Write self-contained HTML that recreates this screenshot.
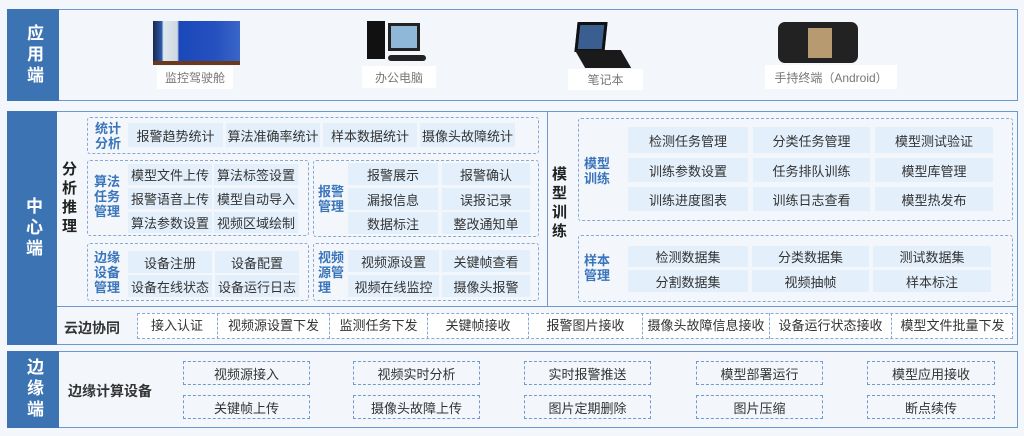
<!DOCTYPE html>
<html><head><meta charset="utf-8"><style>
*{margin:0;padding:0;box-sizing:border-box}
body{width:1024px;height:436px;background:#f3f7fb;position:relative;overflow:hidden;font-family:"Liberation Sans","Noto Sans CJK SC",sans-serif;color:#333}
div{position:absolute}
.sec{border:1px solid #6d98cc;background:#f3f7fb}
.bar{background:#3c73b3;color:#fff;font-size:17px;line-height:22px;text-align:center;display:flex;align-items:center;justify-content:center;writing-mode:vertical-rl;letter-spacing:4px;font-weight:bold}
.dash{border:1.5px dashed #86a9d6;border-radius:3px}
.c{background:#e3effb;font-size:13px;text-align:center;color:#333;display:flex;align-items:center;justify-content:center}
.lb{color:#3a75bb;font-weight:bold;font-size:13px;line-height:15px}
.vl{font-weight:bold;font-size:15px;line-height:19px;color:#222;width:18px}
.wl{background:#fff;color:#777;font-size:12px;text-align:center;display:flex;align-items:center;justify-content:center}
.e{border:1.5px dashed #6f9ad3;font-size:13px;display:flex;align-items:center;justify-content:center;background:#f3f7fb}
</style></head><body>
<!-- app -->
<div class="sec" style="left:7px;top:9px;width:1011px;height:92px"></div>
<div class="bar" style="left:7px;top:9px;width:52px;height:92px">应用端</div>
<div style="left:153px;top:21px;width:87px;height:44px;background:linear-gradient(90deg,#1a2850 0,#2e5aa8 10%,#dfe8f0 12%,#cfd8e0 28%,#1b48b8 30%,#2450c0 70%,#3a66c8 100%);border-bottom:4px solid #6b3a1c"></div>
<div class="wl" style="left:157px;top:66px;width:76px;height:23px">监控驾驶舱</div>
<div style="left:367px;top:21px;width:18px;height:38px;background:#111"></div>
<div style="left:388px;top:23px;width:32px;height:28px;background:#8fb7d8;border:3px solid #222"></div>
<div style="left:388px;top:55px;width:38px;height:6px;background:#222;border-radius:3px"></div>
<div class="wl" style="left:362px;top:66px;width:74px;height:22px">办公电脑</div>
<div style="left:576px;top:22px;width:30px;height:30px;background:#3b5e90;border:3px solid #111;transform:skewX(-6deg)"></div>
<div style="left:580px;top:50px;width:46px;height:18px;background:#1a1a1a;transform:skewX(30deg)"></div>
<div class="wl" style="left:568px;top:69px;width:75px;height:21px">笔记本</div>
<div style="left:778px;top:22px;width:80px;height:41px;background:#222;border-radius:7px"></div>
<div style="left:808px;top:28px;width:24px;height:30px;background:#b79a70"></div>
<div class="wl" style="left:765px;top:65px;width:132px;height:24px">手持终端（Android）</div>
<!-- center -->
<div class="sec" style="left:7px;top:111px;width:1011px;height:234px"></div>
<div class="bar" style="left:7px;top:111px;width:50px;height:234px">中心端</div>
<div style="left:547px;top:111px;width:1px;height:195px;background:#6d98cc"></div>
<div style="left:57px;top:306px;width:961px;height:1px;background:#6d98cc"></div>
<div class="vl" style="left:62px;top:160px">分析推理</div>
<div class="dash" style="left:87px;top:117px;width:452px;height:37px"></div>
<div class="lb" style="left:95px;top:121px">统计<br>分析</div>
<div class="c" style="left:128px;top:123px;width:95px;height:24px">报警趋势统计</div>
<div class="c" style="left:226px;top:123px;width:94px;height:24px">算法准确率统计</div>
<div class="c" style="left:323px;top:123px;width:94px;height:24px">样本数据统计</div>
<div class="c" style="left:420px;top:123px;width:95px;height:24px">摄像头故障统计</div>
<div class="dash" style="left:87px;top:160px;width:222px;height:76px"></div>
<div class="lb" style="left:94px;top:174px">算法<br>任务<br>管理</div>
<div class="c" style="left:128px;top:164px;width:84px;height:21px">模型文件上传</div>
<div class="c" style="left:214px;top:164px;width:84px;height:21px">算法标签设置</div>
<div class="c" style="left:128px;top:188px;width:84px;height:21px">报警语音上传</div>
<div class="c" style="left:214px;top:188px;width:84px;height:21px">模型自动导入</div>
<div class="c" style="left:128px;top:212px;width:84px;height:21px">算法参数设置</div>
<div class="c" style="left:214px;top:212px;width:84px;height:21px">视频区域绘制</div>
<div class="dash" style="left:313px;top:160px;width:226px;height:77px"></div>
<div class="lb" style="left:318px;top:184px">报警<br>管理</div>
<div class="c" style="left:348px;top:163px;width:90px;height:22px">报警展示</div>
<div class="c" style="left:442px;top:163px;width:88px;height:22px">报警确认</div>
<div class="c" style="left:348px;top:188px;width:90px;height:22px">漏报信息</div>
<div class="c" style="left:442px;top:188px;width:88px;height:22px">误报记录</div>
<div class="c" style="left:348px;top:212px;width:90px;height:22px">数据标注</div>
<div class="c" style="left:442px;top:212px;width:88px;height:22px">整改通知单</div>
<div class="dash" style="left:87px;top:243px;width:222px;height:58px"></div>
<div class="lb" style="left:94px;top:250px">边缘<br>设备<br>管理</div>
<div class="c" style="left:128px;top:251px;width:84px;height:22px">设备注册</div>
<div class="c" style="left:215px;top:251px;width:84px;height:22px">设备配置</div>
<div class="c" style="left:128px;top:275px;width:84px;height:22px">设备在线状态</div>
<div class="c" style="left:215px;top:275px;width:84px;height:22px">设备运行日志</div>
<div class="dash" style="left:313px;top:243px;width:226px;height:58px"></div>
<div class="lb" style="left:318px;top:250px">视频<br>源管<br>理</div>
<div class="c" style="left:348px;top:250px;width:91px;height:22px">视频源设置</div>
<div class="c" style="left:442px;top:250px;width:88px;height:22px">关键帧查看</div>
<div class="c" style="left:348px;top:275px;width:91px;height:22px">视频在线监控</div>
<div class="c" style="left:442px;top:275px;width:88px;height:22px">摄像头报警</div>
<div class="vl" style="left:552px;top:165px">模型训练</div>
<div class="dash" style="left:578px;top:118px;width:435px;height:103px"></div>
<div class="lb" style="left:584px;top:156px">模型<br>训练</div>
<div class="c" style="left:628px;top:127px;width:120px;height:26px">检测任务管理</div>
<div class="c" style="left:753px;top:127px;width:117px;height:26px">分类任务管理</div>
<div class="c" style="left:875px;top:127px;width:118px;height:26px">模型测试验证</div>
<div class="c" style="left:628px;top:158px;width:120px;height:24px">训练参数设置</div>
<div class="c" style="left:753px;top:158px;width:117px;height:24px">任务排队训练</div>
<div class="c" style="left:875px;top:158px;width:118px;height:24px">模型库管理</div>
<div class="c" style="left:628px;top:187px;width:120px;height:24px">训练进度图表</div>
<div class="c" style="left:753px;top:187px;width:117px;height:24px">训练日志查看</div>
<div class="c" style="left:875px;top:187px;width:118px;height:24px">模型热发布</div>
<div class="dash" style="left:578px;top:235px;width:435px;height:67px"></div>
<div class="lb" style="left:584px;top:253px">样本<br>管理</div>
<div class="c" style="left:628px;top:246px;width:120px;height:21px">检测数据集</div>
<div class="c" style="left:752px;top:246px;width:117px;height:21px">分类数据集</div>
<div class="c" style="left:873px;top:246px;width:118px;height:21px">测试数据集</div>
<div class="c" style="left:628px;top:270px;width:120px;height:22px">分割数据集</div>
<div class="c" style="left:752px;top:270px;width:117px;height:22px">视频抽帧</div>
<div class="c" style="left:873px;top:270px;width:118px;height:22px">样本标注</div>
<div style="left:64px;top:318px;font-size:14px;font-weight:bold">云边协同</div>
<div class="dash" style="left:137px;top:313px;width:876px;height:26px;border-radius:0;background:#fff"></div>
<div style="left:137px;top:313px;width:876px;height:26px;display:flex;font-size:13px">
<div style="position:static;width:81px;text-align:center;line-height:26px;border-right:1.5px dashed #86a9d6">接入认证</div>
<div style="position:static;width:112px;text-align:center;line-height:26px;border-right:1.5px dashed #86a9d6">视频源设置下发</div>
<div style="position:static;width:98px;text-align:center;line-height:26px;border-right:1.5px dashed #86a9d6">监测任务下发</div>
<div style="position:static;width:101px;text-align:center;line-height:26px;border-right:1.5px dashed #86a9d6">关键帧接收</div>
<div style="position:static;width:114px;text-align:center;line-height:26px;border-right:1.5px dashed #86a9d6">报警图片接收</div>
<div style="position:static;width:127px;text-align:center;line-height:26px;border-right:1.5px dashed #86a9d6">摄像头故障信息接收</div>
<div style="position:static;width:122px;text-align:center;line-height:26px;border-right:1.5px dashed #86a9d6">设备运行状态接收</div>
<div style="position:static;width:121px;text-align:center;line-height:26px">模型文件批量下发</div>
</div>
<!-- edge -->
<div class="sec" style="left:7px;top:351px;width:1011px;height:77px"></div>
<div class="bar" style="left:7px;top:351px;width:52px;height:77px">边缘端</div>
<div style="left:68px;top:381px;font-size:14px;font-weight:bold">边缘计算设备</div>
<div class="e" style="left:183px;top:361px;width:127px;height:24px">视频源接入</div>
<div class="e" style="left:353px;top:361px;width:127px;height:24px">视频实时分析</div>
<div class="e" style="left:524px;top:361px;width:127px;height:24px">实时报警推送</div>
<div class="e" style="left:696px;top:361px;width:127px;height:24px">模型部署运行</div>
<div class="e" style="left:867px;top:361px;width:128px;height:24px">模型应用接收</div>
<div class="e" style="left:183px;top:395px;width:127px;height:24px">关键帧上传</div>
<div class="e" style="left:353px;top:395px;width:127px;height:24px">摄像头故障上传</div>
<div class="e" style="left:524px;top:395px;width:127px;height:24px">图片定期删除</div>
<div class="e" style="left:696px;top:395px;width:127px;height:24px">图片压缩</div>
<div class="e" style="left:867px;top:395px;width:128px;height:24px">断点续传</div>
</body></html>
